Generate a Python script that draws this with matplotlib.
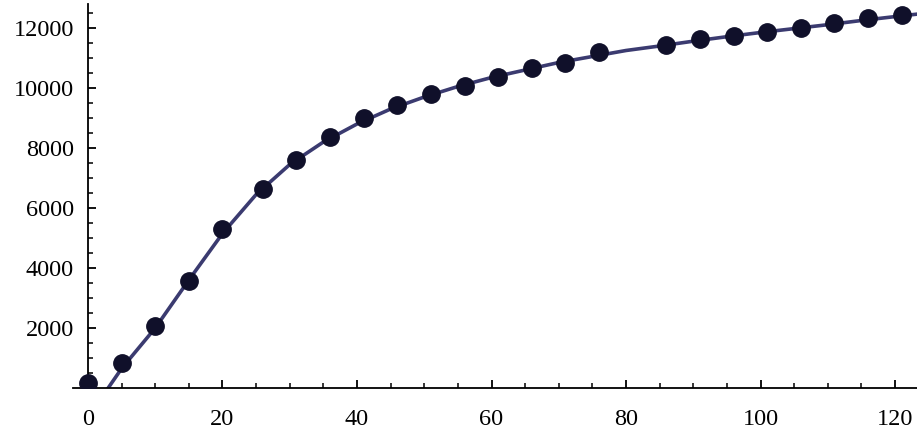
import numpy as np
import matplotlib
matplotlib.use("Agg")
import matplotlib.pyplot as plt
from matplotlib.ticker import MultipleLocator

x_pts = [0, 5, 10, 15, 20, 26, 31, 36, 41, 46, 51, 56, 61, 66, 71, 76,
         86, 91, 96, 101, 106, 111, 116, 121]
y_pts = [160, 830, 2060, 3580, 5300, 6630, 7590, 8380, 8990, 9430, 9800,
         10070, 10380, 10660, 10840, 11210, 11430, 11620, 11740, 11880,
         11990, 12160, 12320, 12440]

# fitted curve, read at intervals along the drawn line
x_fit = [0, 3, 5, 10, 15, 20, 25, 30, 35, 40, 45, 50, 55, 60, 65, 70, 75,
         80, 85, 90, 95, 100, 105, 110, 115, 120, 124]
y_fit = [-700, 0, 650, 2000, 3600, 5150, 6450, 7450, 8200, 8800, 9300,
         9700, 10050, 10350, 10600, 10850, 11050, 11250, 11400, 11560,
         11710, 11850, 11980, 12110, 12250, 12380, 12480]

x_ticks = [0, 20, 40, 60, 80, 100, 120]
y_ticks = [2000, 4000, 6000, 8000, 10000, 12000]

plt.rcParams['font.family'] = ['Liberation Serif', 'DejaVu Serif']

fig = plt.figure(figsize=(9.17, 4.36), dpi=100)
ax = fig.add_axes([73 / 917, 48 / 436, 844 / 917, 384 / 436])

ax.plot(x_fit, y_fit, color='#3b3b70', lw=2.6, zorder=2)
ax.plot(x_pts, y_pts, 'o', ms=12.5, color='#10102a', mec='#10102a', zorder=3)

ax.set_xlim(-2.23, 123.27)
ax.set_ylim(0, 12800)

for s in ['top', 'right']:
    ax.spines[s].set_visible(False)
ax.spines['left'].set_position(('data', 0))
ax.spines['bottom'].set_position(('data', 0))
for s in ['left', 'bottom']:
    ax.spines[s].set_linewidth(1.3)
    ax.spines[s].set_color('black')

ax.set_xticks(x_ticks)
ax.set_yticks(y_ticks)
ax.xaxis.set_minor_locator(MultipleLocator(5))
ax.yaxis.set_minor_locator(MultipleLocator(500))
ax.tick_params(which='major', direction='in', length=6, width=1.3,
               labelsize=17.5, pad=10)
ax.tick_params(which='minor', direction='in', length=3.5, width=1.1)
ax.tick_params(axis='x', which='major', pad=15)

fig.savefig('out.png', dpi=100)
